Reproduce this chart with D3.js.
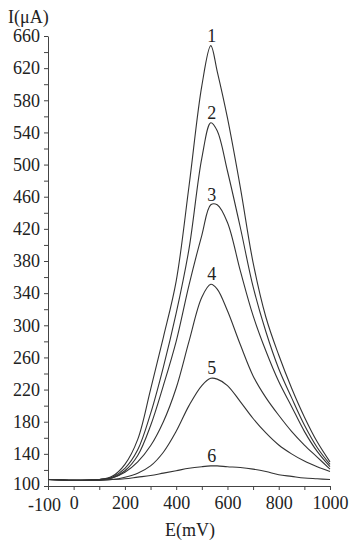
<!DOCTYPE html>
<html>
<head>
  <meta charset="UTF-8">
  <style>
    body {
      margin: 0;
      background-color: #ffffff;
    }
    svg {
      display: block;
      font-family: 'Liberation Serif', 'Times New Roman', serif;
    }
    .axis path, .axis line {
      stroke: #444;
      stroke-width: 1;
    }
    .axis text {
      font-family: 'Liberation Serif', 'Times New Roman', serif;
      font-size: 18px;
      fill: #222;
    }
  </style>
</head>
<body>

<svg></svg>

<script src="https://d3js.org/d3.v7.min.js"></script>

<script>
// potentials (mV)
const potentials = [-100, 0, 100, 150, 200, 250, 300, 350, 400, 450, 500, 535, 560, 600, 650, 700, 750, 800, 850, 900, 950, 1000];

// current (uA) for each curve
const curve1 = [108, 107, 108, 112, 127, 158, 220, 285, 355, 473, 598, 648, 616, 558, 472, 378, 310, 263, 222, 186, 155, 130];
const curve2 = [108, 107, 108, 111, 122, 145, 190, 248, 315, 395, 508, 552, 542, 492, 422, 348, 292, 246, 210, 176, 148, 127];
const curve3 = [108, 107, 108, 110, 119, 138, 175, 225, 280, 350, 412, 450, 450, 428, 368, 312, 268, 230, 199, 168, 143, 124];
const curve4 = [108, 107, 108, 110, 117, 130, 150, 180, 222, 280, 335, 351, 345, 318, 276, 237, 210, 188, 168, 151, 136, 121];
const curve5 = [108, 107, 107, 108, 111, 116, 125, 142, 168, 200, 225, 234, 233, 225, 205, 184, 166, 151, 140, 131, 124, 118];
const curve6 = [108, 107, 107.5, 108, 109, 111, 113, 116, 119, 122, 124, 125, 125, 124, 123, 121, 118, 114, 112, 110, 109, 108];

const seriesNames = ["1", "2", "3", "4", "5", "6"];
const seriesValues = [curve1, curve2, curve3, curve4, curve5, curve6];

const xTicks = [-100, 0, 100, 200, 300, 400, 500, 600, 700, 800, 900, 1000];
const xLabels = [-100, 0, 200, 400, 600, 800, 1000];
const yTicks = d3.range(100, 661, 20);
const yLabels = [100, 140, 180, 220, 260, 300, 340, 380, 420, 460, 500, 540, 580, 620, 660];

let width = 354, height = 550;

let svg = d3.select("svg")
    .attr("width", width)
    .attr("height", height);

let x = d3.scaleLinear().domain([-100, 1000]).range([48, 330]);
let y = d3.scaleLinear().domain([100, 660]).range([486, 36]);

// x axis
let xAxis = svg.append("g")
    .attr("class", "axis")
    .attr("transform", "translate(0," + y(100) + ")")
    .call(d3.axisBottom(x)
      .tickValues(xTicks)
      .tickSizeInner(4)
      .tickSizeOuter(0)
      .tickPadding(6)
      .tickFormat(d => xLabels.includes(d) ? String(d) : ""));

// pull "-100" a little left and down, clear of the "100" on the y axis
xAxis.selectAll(".tick text")
    .filter(d => d === -100)
    .attr("dx", -4)
    .attr("dy", "0.82em");

// y axis
let yAxis = svg.append("g")
    .attr("class", "axis")
    .attr("transform", "translate(" + x(-100) + ",0)")
    .call(d3.axisLeft(y)
      .tickValues(yTicks)
      .tickSizeInner(4)
      .tickSizeOuter(0)
      .tickPadding(4)
      .tickFormat(d => yLabels.includes(d) ? d : ""));

yAxis.selectAll(".tick text")
    .filter(d => d === 100)
    .attr("dy", "0.2em");

// curves
let line = d3.line()
    .x((d, i) => x(potentials[i]))
    .y(d => y(d))
    .curve(d3.curveCatmullRom.alpha(0.5));

svg.append("g")
    .selectAll("path")
    .data(seriesValues)
    .enter()
    .append("path")
    .attr("d", line)
    .attr("fill", "none")
    .attr("stroke", "#333")
    .attr("stroke-width", 1.1);

// peak labels
svg.append("g")
    .selectAll("text")
    .data(seriesValues)
    .enter()
    .append("text")
    .attr("x", d => x(potentials[d.indexOf(d3.max(d))]) + 1)
    .attr("y", d => y(d3.max(d)) - 4)
    .attr("text-anchor", "middle")
    .attr("font-size", 18)
    .attr("fill", "#222")
    .text((d, i) => seriesNames[i]);

// axis titles
svg.append("text")
    .attr("x", 8)
    .attr("y", 23)
    .attr("font-size", 18)
    .attr("fill", "#222")
    .text("I(μA)");

svg.append("text")
    .attr("x", 190)
    .attr("y", 536)
    .attr("text-anchor", "middle")
    .attr("font-size", 18)
    .attr("fill", "#222")
    .text("E(mV)");
</script>

</body>
</html>
